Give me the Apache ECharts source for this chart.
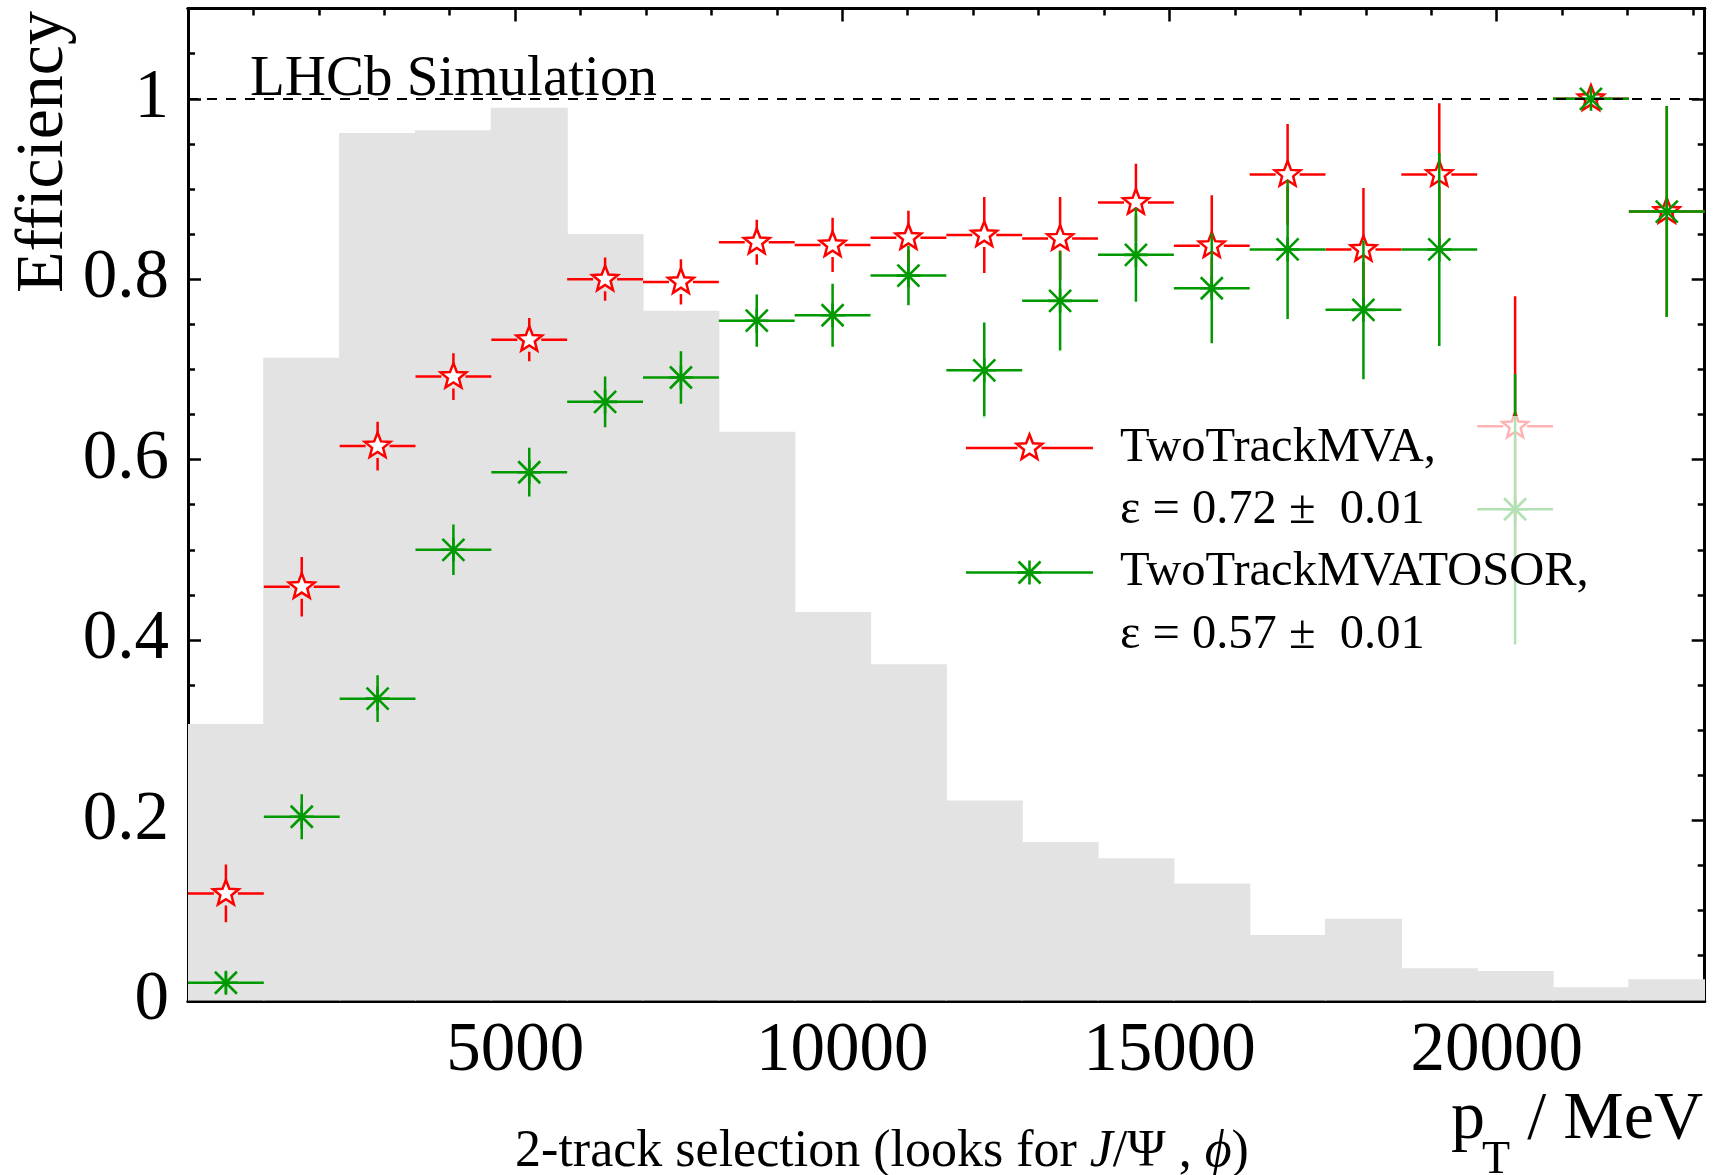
<!DOCTYPE html>
<html><head><meta charset="utf-8">
<script src="https://cdn.jsdelivr.net/npm/echarts@6/dist/echarts.min.js"></script>
<style>html,body{margin:0;padding:0;background:#fff}#c{width:1713px;height:1175px}</style>
</head><body><div id="c"></div>
<script>
// ---------------- data ----------------
const binEdges = [0, 1159, 2318, 3477, 4636, 5795, 6954, 8113, 9272, 10431, 11590,
  12749, 13908, 15067, 16226, 17385, 18544, 19703, 20862, 22021, 23180];
const histHeights = [0.307, 0.713, 0.962, 0.965, 0.990, 0.850, 0.765, 0.631, 0.431, 0.373,
  0.222, 0.176, 0.158, 0.130, 0.073, 0.091, 0.036, 0.033, 0.015, 0.024];
const mvaEff = [0.119, 0.459, 0.615, 0.692, 0.733, 0.800, 0.797, 0.841, 0.838, 0.846,
  0.849, 0.845, 0.885, 0.837, 0.916, 0.833, 0.916, 0.637, 1.000, 0.875];
const mvaErr = [0.032, 0.033, 0.027, 0.026, 0.024, 0.024, 0.025, 0.025, 0.030, 0.030,
  0.042, 0.046, 0.043, 0.056, 0.056, 0.068, 0.079, 0.144, 0.000, 0.117];
const tosEff = [0.020, 0.204, 0.335, 0.500, 0.586, 0.664, 0.691, 0.754, 0.760, 0.804,
  0.699, 0.776, 0.827, 0.790, 0.833, 0.766, 0.833, 0.545, 1.000, 0.875];
const tosErr = [0.012, 0.025, 0.026, 0.028, 0.027, 0.028, 0.029, 0.029, 0.035, 0.033,
  0.053, 0.055, 0.052, 0.061, 0.077, 0.077, 0.107, 0.150, 0.000, 0.117];
const xTickLabels = ['5000', '10000', '15000', '20000'];
const yTickLabels = ['0', '0.2', '0.4', '0.6', '0.8', '1'];
const seriesNames = ['TwoTrackMVA,', 'TwoTrackMVATOSOR,'];
const seriesEffText = ['ε = 0.72 ±  0.01', 'ε = 0.57 ±  0.01'];
const xRange = [0, 23180];
const yRange = [0, 1.1];
const refLineValue = 1;

// ---------------- styling ----------------
const FONT = 'Liberation Serif';
const RED = '#ff0000';
const GREEN = '#009900';
const HIST = '#e3e3e3';

const chart = echarts.init(document.getElementById('c'), null, {renderer: 'canvas'});

function xAxisDef(pos, interval, tickLen, labels) {
  return {
    type: 'value', position: pos, min: xRange[0], max: xRange[1], interval: interval,
    axisLine: {show: true, onZero: false, lineStyle: {color: '#000', width: 3}},
    axisTick: {show: true, inside: true, length: tickLen, lineStyle: {color: '#000', width: 2.5}},
    axisLabel: {show: labels, margin: 17, color: '#000', fontFamily: FONT, fontSize: 69, lineHeight: 69,
      formatter: v => xTickLabels.includes(String(Math.round(v))) ? String(Math.round(v)) : ''},
    splitLine: {show: false}
  };
}
function yAxisDef(pos, interval, tickLen, labels) {
  return {
    type: 'value', position: pos, min: yRange[0], max: yRange[1], interval: interval,
    axisLine: {show: true, onZero: false, lineStyle: {color: '#000', width: 3}},
    axisTick: {show: true, inside: true, length: tickLen, lineStyle: {color: '#000', width: 2.5}},
    axisLabel: {show: labels, margin: 19, color: '#000', fontFamily: FONT, fontSize: 69,
      formatter: v => { const s = String(+v.toFixed(2)); return yTickLabels.includes(s) ? s : ''; }},
    splitLine: {show: false}
  };
}

function starPoints(cx, cy, R, r) {
  const pts = [];
  for (let k = 0; k < 10; k++) {
    const a = -Math.PI / 2 + k * Math.PI / 5;
    const rad = k % 2 === 0 ? R : r;
    pts.push([cx + rad * Math.cos(a), cy + rad * Math.sin(a)]);
  }
  return pts;
}
function starMarker(cx, cy, color) {
  return {type: 'polygon', shape: {points: starPoints(cx, cy, 13.5, 5.8)},
    style: {fill: '#fff', stroke: color, lineWidth: 2.5}};
}
function asteriskMarker(cx, cy, color) {
  const st = {stroke: color, lineWidth: 2.6};
  const a = 12, d = 11;
  return [
    {type: 'line', shape: {x1: cx - a, y1: cy, x2: cx + a, y2: cy}, style: st},
    {type: 'line', shape: {x1: cx, y1: cy - a, x2: cx, y2: cy + a}, style: st},
    {type: 'line', shape: {x1: cx - d, y1: cy - d, x2: cx + d, y2: cy + d}, style: st},
    {type: 'line', shape: {x1: cx - d, y1: cy + d, x2: cx + d, y2: cy - d}, style: st}
  ];
}
function seg(x1, y1, x2, y2, color) {
  return {type: 'line', shape: {x1, y1, x2, y2}, style: {stroke: color, lineWidth: 2.5}};
}

function errRender(color, kind) {
  return function (params, api) {
    const lo = api.value(0), hi = api.value(1), v = api.value(2), e = api.value(3);
    const mid = (lo + hi) / 2;
    const c = api.coord([mid, v]);
    const l = api.coord([lo, v])[0], r = api.coord([hi, v])[0];
    const top = api.coord([mid, v + e])[1], bot = api.coord([mid, v - e])[1];
    const children = [];
    if (kind === 'star') {
      const g = 12;
      children.push(seg(l, c[1], c[0] - g, c[1], color));
      children.push(seg(c[0] + g, c[1], r, c[1], color));
      if (top < c[1] - g) children.push(seg(c[0], top, c[0], c[1] - g, color));
      if (bot > c[1] + g) children.push(seg(c[0], c[1] + g, c[0], bot, color));
      children.push(starMarker(c[0], c[1], color));
    } else {
      children.push(seg(l, c[1], r, c[1], color));
      if (bot - top > 0.5) children.push(seg(c[0], top, c[0], bot, color));
      asteriskMarker(c[0], c[1], color).forEach(o => children.push(o));
    }
    return {type: 'group', children};
  };
}

// legend (drawn with graphic elements, semi-transparent box like the ROOT legend)
const LX = 966, LW = 127, TX = 1120;
const rows = [448, 510, 572.5, 635];
const LFONT = '48.5px "Liberation Serif"';
const legendGraphics = [
  {type: 'rect', z: 50, shape: {x: 950, y: 416, width: 690, height: 250},
    style: {fill: 'rgba(255,255,255,0.7)'}},
  // red entry
  {type: 'line', z: 60, shape: {x1: LX, y1: rows[0], x2: LX + LW / 2 - 12, y2: rows[0]}, style: {stroke: RED, lineWidth: 2.5}},
  {type: 'line', z: 60, shape: {x1: LX + LW / 2 + 12, y1: rows[0], x2: LX + LW, y2: rows[0]}, style: {stroke: RED, lineWidth: 2.5}},
  Object.assign(starMarker(LX + LW / 2, rows[0], RED), {z: 61}),
  // green entry
  {type: 'line', z: 60, shape: {x1: LX, y1: rows[2], x2: LX + LW, y2: rows[2]}, style: {stroke: GREEN, lineWidth: 2.5}},
  ...asteriskMarker(LX + LW / 2, rows[2], GREEN).map(o => Object.assign(o, {z: 61})),
  {type: 'text', z: 61, x: TX, y: rows[0], style: {text: seriesNames[0], font: LFONT, fill: '#000', textAlign: 'left', textVerticalAlign: 'middle'}},
  {type: 'text', z: 61, x: TX, y: rows[1], style: {text: seriesEffText[0], font: LFONT, fill: '#000', textAlign: 'left', textVerticalAlign: 'middle'}},
  {type: 'text', z: 61, x: TX, y: rows[2], style: {text: seriesNames[1], font: LFONT, fill: '#000', textAlign: 'left', textVerticalAlign: 'middle'}},
  {type: 'text', z: 61, x: TX, y: rows[3], style: {text: seriesEffText[1], font: LFONT, fill: '#000', textAlign: 'left', textVerticalAlign: 'middle'}}
];

const textGraphics = [
  {type: 'text', z: 70, x: 250, y: 80, style: {text: 'LHCb Simulation', font: '57px "Liberation Serif"', fill: '#000', textAlign: 'left', textVerticalAlign: 'middle'}},
  {type: 'text', z: 70, x: 44, y: 11, rotation: Math.PI / 2, style: {text: 'Efficiency', font: '68px "Liberation Serif"', fill: '#000', textAlign: 'right', textVerticalAlign: 'middle'}},
  {type: 'text', z: 70, x: 1451, y: 1120, style: {text: 'p', font: '68px "Liberation Serif"', fill: '#000', textAlign: 'left', textVerticalAlign: 'middle'}},
  {type: 'text', z: 70, x: 1482, y: 1161, style: {text: 'T', font: '46px "Liberation Serif"', fill: '#000', textAlign: 'left', textVerticalAlign: 'middle'}},
  {type: 'text', z: 70, x: 1703, y: 1120, style: {text: '/ MeV', font: '68px "Liberation Serif"', fill: '#000', textAlign: 'right', textVerticalAlign: 'middle'}},
  {type: 'text', z: 70, x: 882, y: 1152, style: {
    text: '{n|2-track selection (looks for }{i|J}{n|/Ψ , }{i|ϕ}{n|)}',
    font: '52px "Liberation Serif"', fill: '#000', textAlign: 'center', textVerticalAlign: 'middle',
    rich: {n: {fontFamily: FONT, fontSize: 52, fill: '#000'}, i: {fontFamily: FONT, fontSize: 52, fontStyle: 'italic', fill: '#000'}}
  }}
];

const option = {
  animation: false,
  backgroundColor: '#fff',
  grid: {left: 188, top: 8.6, width: 1516.7, height: 992.2, containLabel: false},
  xAxis: [
    xAxisDef('bottom', 5000, 13, true),
    xAxisDef('bottom', 1000, 7, false),
    xAxisDef('top', 5000, 13, false),
    xAxisDef('top', 1000, 7, false)
  ],
  yAxis: [
    yAxisDef('left', 0.2, 13, true),
    yAxisDef('left', 0.05, 7, false),
    yAxisDef('right', 0.2, 13, false),
    yAxisDef('right', 0.05, 7, false)
  ],
  series: [
    {
      type: 'custom', name: 'histogram', z: 1, clip: true,
      data: histHeights.map((h, i) => [binEdges[i], binEdges[i + 1], h]),
      encode: {x: [0, 1], y: 2},
      renderItem: (params, api) => {
        const p0 = api.coord([api.value(0), 0]);
        const p1 = api.coord([api.value(1), api.value(2)]);
        return {type: 'rect', shape: {x: p0[0] - 0.6, y: p1[1], width: p1[0] - p0[0] + 1.2, height: p0[1] - p1[1]},
          style: {fill: HIST}};
      }
    },
    {
      type: 'custom', name: seriesNames[0], z: 3, clip: true,
      data: mvaEff.map((v, i) => [binEdges[i], binEdges[i + 1], v, mvaErr[i]]),
      encode: {x: [0, 1], y: 2},
      renderItem: errRender(RED, 'star')
    },
    {
      type: 'custom', name: seriesNames[1], z: 4, clip: true,
      data: tosEff.map((v, i) => [binEdges[i], binEdges[i + 1], v, tosErr[i]]),
      encode: {x: [0, 1], y: 2},
      renderItem: errRender(GREEN, 'asterisk')
    },
    {
      type: 'line', name: 'ref', z: 5, data: [],
      markLine: {silent: true, symbol: ['none', 'none'], label: {show: false},
        lineStyle: {color: '#000', type: [10, 9], width: 2},
        data: [{yAxis: refLineValue}]}
    }
  ],
  graphic: [...legendGraphics, ...textGraphics]
};
chart.setOption(option);
</script>
</body></html>
